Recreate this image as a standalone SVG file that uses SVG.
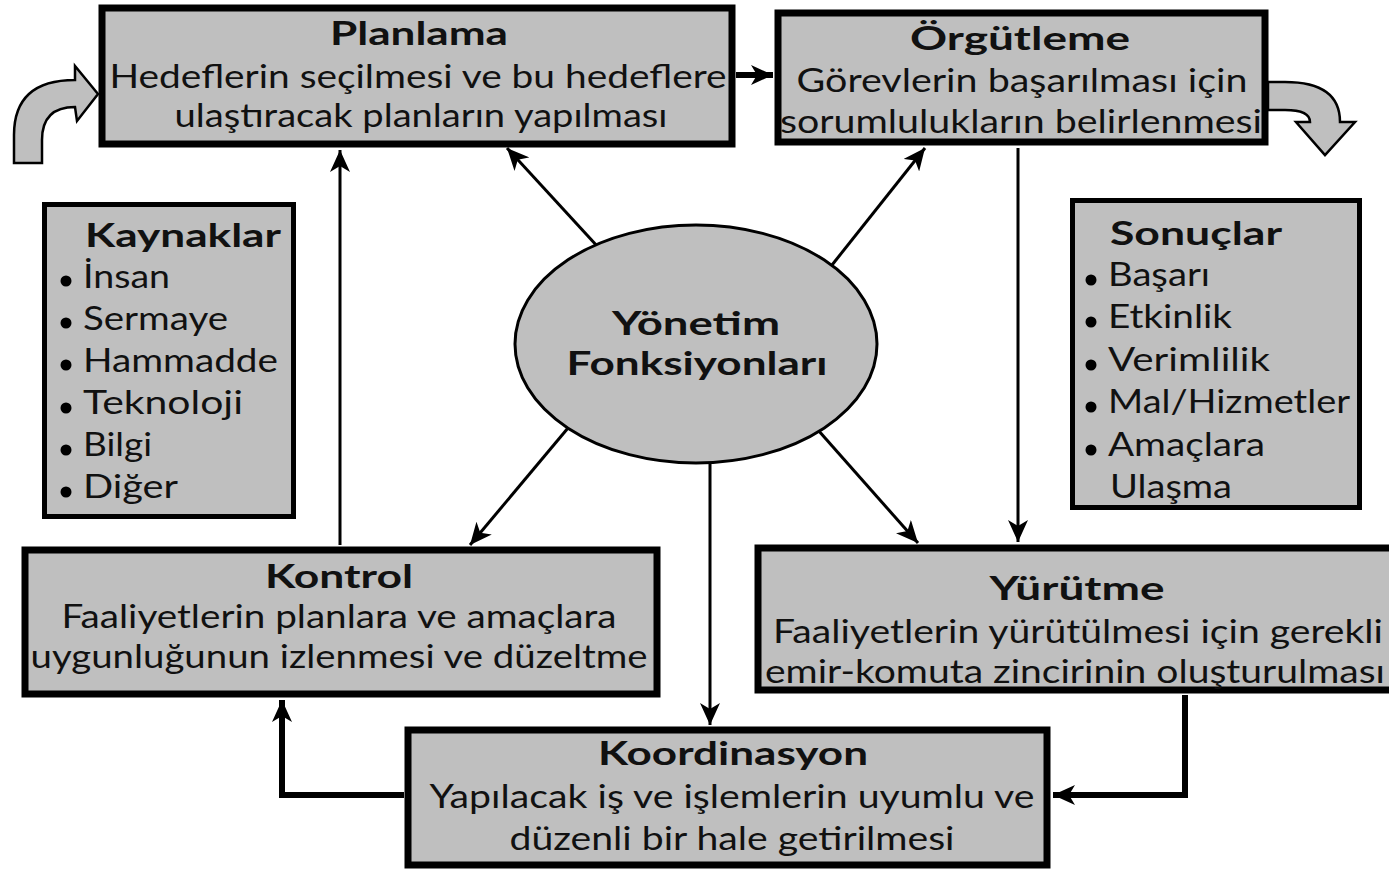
<svg xmlns="http://www.w3.org/2000/svg" width="1389" height="872" viewBox="0 0 1389 872">
<style>
.box{fill:#bfbfbf;stroke:#000;stroke-width:7}
.lst{fill:#bfbfbf;stroke:#000;stroke-width:5}
.t{font-family:Lato,"Open Sans","Liberation Sans",sans-serif;font-size:33px;fill:#111}
.b{font-weight:bold}
.c{text-anchor:middle}
.ln{stroke:#000;stroke-width:3;fill:none}
.lt{stroke:#000;stroke-width:6;fill:none}
.ca{fill:#bfbfbf;stroke:#000;stroke-width:2.5;stroke-linejoin:miter}
</style>
<defs>
<marker id="ah" markerUnits="userSpaceOnUse" markerWidth="24" markerHeight="20" refX="22" refY="10" orient="auto">
<path d="M0,0 L22,10 L0,20 L6,10 Z" fill="#000"/>
</marker>
</defs>
<rect width="1389" height="872" fill="#fff"/>

<g id="connectors">
<line class="ln" x1="598" y1="247" x2="507" y2="148" marker-end="url(#ah)"/>
<line class="ln" x1="832" y1="265" x2="925" y2="148" marker-end="url(#ah)"/>
<line class="ln" x1="568" y1="428" x2="470" y2="545" marker-end="url(#ah)"/>
<line class="ln" x1="818" y1="430" x2="918" y2="543" marker-end="url(#ah)"/>
<line class="ln" x1="710" y1="463" x2="710" y2="725" marker-end="url(#ah)"/>
<line class="ln" x1="340" y1="545" x2="340" y2="150" marker-end="url(#ah)"/>
<line class="lt" x1="736" y1="75" x2="773" y2="75" marker-end="url(#ah)"/>
<line class="ln" x1="1018" y1="148" x2="1018" y2="542" marker-end="url(#ah)"/>
<polyline class="lt" points="1185,695 1185,795 1053,795" marker-end="url(#ah)"/>
<polyline class="lt" points="404,795 282,795 282,700" marker-end="url(#ah)"/>
</g>

<g id="arrow-in">
<path class="ca" d="M14,163 L14,135 Q14,80 75,80 L75,66 L98,94 L77,121 L75,107 Q42,107 42,140 L42,163 Z"/>
</g>
<g id="arrow-out">
<path class="ca" d="M1268,82 L1285,82 Q1340,82 1340,122 L1355,122 L1325,155 L1296,122 L1310,122 Q1310,110 1285,110 L1268,110 Z"/>
</g>

<g id="planlama">
<rect class="box" x="102" y="8" width="630" height="136"/>
<text class="t b c" x="419" y="45" textLength="178" lengthAdjust="spacingAndGlyphs">Planlama</text>
<text class="t c" x="418" y="88" textLength="617" lengthAdjust="spacingAndGlyphs">Hedeflerin seçilmesi ve bu hedeflere</text>
<text class="t c" x="421" y="127" textLength="493" lengthAdjust="spacingAndGlyphs">ulaştıracak planların yapılması</text>
</g>

<g id="orgutleme">
<rect class="box" x="778" y="13" width="487" height="129"/>
<text class="t b c" x="1020" y="50" textLength="220" lengthAdjust="spacingAndGlyphs">Örgütleme</text>
<text class="t c" x="1022" y="92" textLength="451" lengthAdjust="spacingAndGlyphs">Görevlerin başarılması için</text>
<text class="t c" x="1021" y="133" textLength="482" lengthAdjust="spacingAndGlyphs">sorumlulukların belirlenmesi</text>
</g>

<g id="kaynaklar">
<rect class="lst" x="44.5" y="204.5" width="249" height="312"/>
<text class="t b" x="85" y="247" textLength="196" lengthAdjust="spacingAndGlyphs">Kaynaklar</text>
<g fill="#000">
<circle cx="66" cy="281" r="5.5"/><circle cx="66" cy="323" r="5.5"/><circle cx="66" cy="365" r="5.5"/>
<circle cx="66" cy="408" r="5.5"/><circle cx="66" cy="450" r="5.5"/><circle cx="66" cy="492" r="5.5"/>
</g>
<text class="t" x="83" y="288" textLength="87" lengthAdjust="spacingAndGlyphs">İnsan</text>
<text class="t" x="83" y="330" textLength="145" lengthAdjust="spacingAndGlyphs">Sermaye</text>
<text class="t" x="83" y="372" textLength="195" lengthAdjust="spacingAndGlyphs">Hammadde</text>
<text class="t" x="83" y="414" textLength="160" lengthAdjust="spacingAndGlyphs">Teknoloji</text>
<text class="t" x="83" y="456" textLength="69" lengthAdjust="spacingAndGlyphs">Bilgi</text>
<text class="t" x="83" y="498" textLength="95" lengthAdjust="spacingAndGlyphs">Diğer</text>
</g>

<g id="sonuclar">
<rect class="lst" x="1072.5" y="200.5" width="287" height="307"/>
<text class="t b" x="1110" y="245" textLength="172" lengthAdjust="spacingAndGlyphs">Sonuçlar</text>
<g fill="#000">
<circle cx="1091" cy="280" r="5.5"/><circle cx="1091" cy="322" r="5.5"/><circle cx="1091" cy="365" r="5.5"/>
<circle cx="1091" cy="407" r="5.5"/><circle cx="1091" cy="450" r="5.5"/>
</g>
<text class="t" x="1108" y="286" textLength="102" lengthAdjust="spacingAndGlyphs">Başarı</text>
<text class="t" x="1108" y="328" textLength="124" lengthAdjust="spacingAndGlyphs">Etkinlik</text>
<text class="t" x="1108" y="371" textLength="162" lengthAdjust="spacingAndGlyphs">Verimlilik</text>
<text class="t" x="1108" y="413" textLength="242" lengthAdjust="spacingAndGlyphs">Mal/Hizmetler</text>
<text class="t" x="1108" y="456" textLength="157" lengthAdjust="spacingAndGlyphs">Amaçlara</text>
<text class="t" x="1110" y="498" textLength="122" lengthAdjust="spacingAndGlyphs">Ulaşma</text>
</g>

<g id="yonetim">
<ellipse cx="696" cy="344" rx="181" ry="119" fill="#bfbfbf" stroke="#000" stroke-width="3"/>
<text class="t b c" x="696" y="335" textLength="168" lengthAdjust="spacingAndGlyphs">Yönetim</text>
<text class="t b c" x="697" y="375" textLength="261" lengthAdjust="spacingAndGlyphs">Fonksiyonları</text>
</g>

<g id="kontrol">
<rect class="box" x="25" y="550" width="632" height="144"/>
<text class="t b c" x="339" y="588" textLength="148" lengthAdjust="spacingAndGlyphs">Kontrol</text>
<text class="t c" x="339" y="628" textLength="555" lengthAdjust="spacingAndGlyphs">Faaliyetlerin planlara ve amaçlara</text>
<text class="t c" x="339" y="668" textLength="617" lengthAdjust="spacingAndGlyphs">uygunluğunun izlenmesi ve düzeltme</text>
</g>

<g id="yurutme">
<rect class="box" x="758" y="548" width="640" height="142"/>
<text class="t b c" x="1077" y="600" textLength="175" lengthAdjust="spacingAndGlyphs">Yürütme</text>
<text class="t c" x="1078" y="643" textLength="610" lengthAdjust="spacingAndGlyphs">Faaliyetlerin yürütülmesi için gerekli</text>
<text class="t c" x="1075" y="683" textLength="620" lengthAdjust="spacingAndGlyphs">emir-komuta zincirinin oluşturulması</text>
</g>

<g id="koordinasyon">
<rect class="box" x="408" y="730" width="639" height="135"/>
<text class="t b c" x="733" y="765" textLength="270" lengthAdjust="spacingAndGlyphs">Koordinasyon</text>
<text class="t c" x="732" y="808" textLength="605" lengthAdjust="spacingAndGlyphs">Yapılacak iş ve işlemlerin uyumlu ve</text>
<text class="t c" x="732" y="850" textLength="445" lengthAdjust="spacingAndGlyphs">düzenli bir hale getirilmesi</text>
</g>
</svg>
